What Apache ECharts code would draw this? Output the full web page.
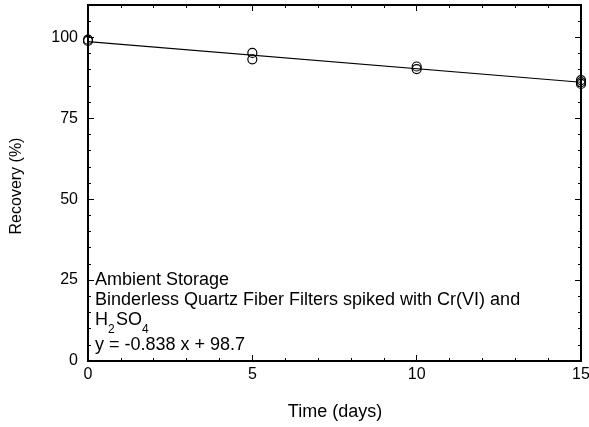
<!DOCTYPE html>
<html>
<head>
<meta charset="utf-8">
<script src="https://cdn.jsdelivr.net/npm/echarts@6/dist/echarts.min.js"></script>
<style>html,body{margin:0;padding:0;background:#fff}#c{width:589px;height:427px}</style>
</head>
<body>
<div id="c"></div>
<script>
// Data
const days = [0, 0, 5, 5, 10, 10, 15, 15, 15];
const recovery = [99.3, 98.9, 95.2, 93.2, 91.0, 90.2, 86.8, 86.2, 85.6];
const slope = -0.838;
const intercept = 98.7;
const xTicks = [0, 5, 10, 15];
const yTicks = [0, 25, 50, 75, 100];
const fitX = [0, 15];

const F = 'Liberation Sans, Arial, Helvetica, sans-serif';
const chart = echarts.init(document.getElementById('c'));

const pts = days.map((d, i) => [d, recovery[i]]);
const fit = fitX.map(x => [x, slope * x + intercept]);

function tickAx(pos, max, interval, len) {
  return {
    type: 'value', position: pos, min: 0, max: max, interval: interval,
    splitLine: {show: false},
    axisLine: {show: false, onZero: false},
    axisTick: {show: true, inside: true, length: len, lineStyle: {color: '#000', width: 1}},
    axisLabel: {show: false}
  };
}
function labelAx(pos, max, interval, ticks, margin) {
  return {
    type: 'value', position: pos, min: 0, max: max, interval: interval,
    splitLine: {show: false},
    axisLine: {show: false, onZero: false},
    axisTick: {show: false},
    axisLabel: {show: true, color: '#000', fontSize: 16, fontFamily: F, margin: margin,
      formatter: v => (ticks.indexOf(v) >= 0 ? String(v) : '')}
  };
}

const option = {
  animation: false,
  backgroundColor: '#fff',
  grid: {left: 88, top: 5, right: 8, bottom: 66, outerBoundsMode: 'none', containLabel: false,
    show: true, borderColor: '#000', borderWidth: 2, backgroundColor: 'transparent'},
  xAxis: [
    labelAx('bottom', 15, 5, xTicks, 6),
    tickAx('bottom', 15, 5, 6),
    tickAx('bottom', 15, 1, 3),
    tickAx('top', 15, 5, 6),
    tickAx('top', 15, 1, 3)
  ],
  yAxis: [
    labelAx('left', 110, 25, yTicks, 10),
    tickAx('left', 110, 25, 6),
    tickAx('left', 110, 5, 3),
    tickAx('right', 110, 25, 6),
    tickAx('right', 110, 5, 3)
  ],
  series: [
    {type: 'line', data: fit, xAxisIndex: 0, yAxisIndex: 0, symbol: 'none',
      lineStyle: {color: '#000', width: 1.2}, z: 3},
    {type: 'scatter', data: pts, xAxisIndex: 0, yAxisIndex: 0, symbol: 'circle', symbolSize: 9,
      itemStyle: {color: 'rgba(255,255,255,0)', borderColor: '#000', borderWidth: 1.2, opacity: 1}, z: 4}
  ],
  graphic: [
    {type: 'text', x: 17, y: 186, rotation: Math.PI / 2,
      style: {text: 'Recovery (%)', fill: '#000', font: '16px ' + F, align: 'center', verticalAlign: 'middle'}},
    {type: 'text', x: 335, y: 412,
      style: {text: 'Time (days)', fill: '#000', font: '18px ' + F, align: 'center', verticalAlign: 'middle'}},
    {type: 'text', x: 95, y: 280, style: {text: 'Ambient Storage', fill: '#000', font: '18px ' + F, verticalAlign: 'middle'}},
    {type: 'text', x: 95, y: 300, style: {text: 'Binderless Quartz Fiber Filters spiked with Cr(VI) and', fill: '#000', font: '18px ' + F, verticalAlign: 'middle'}},
    {type: 'text', x: 95, y: 320, style: {text: 'H', fill: '#000', font: '18px ' + F, verticalAlign: 'middle'}},
    {type: 'text', x: 108, y: 330, style: {text: '2', fill: '#000', font: '12px ' + F, verticalAlign: 'middle'}},
    {type: 'text', x: 116, y: 320, style: {text: 'SO', fill: '#000', font: '18px ' + F, verticalAlign: 'middle'}},
    {type: 'text', x: 142, y: 330, style: {text: '4', fill: '#000', font: '12px ' + F, verticalAlign: 'middle'}},
    {type: 'text', x: 95, y: 345, style: {text: 'y = ' + slope + ' x + ' + intercept, fill: '#000', font: '18px ' + F, verticalAlign: 'middle'}}
  ]
};
chart.setOption(option);
</script>
</body>
</html>
